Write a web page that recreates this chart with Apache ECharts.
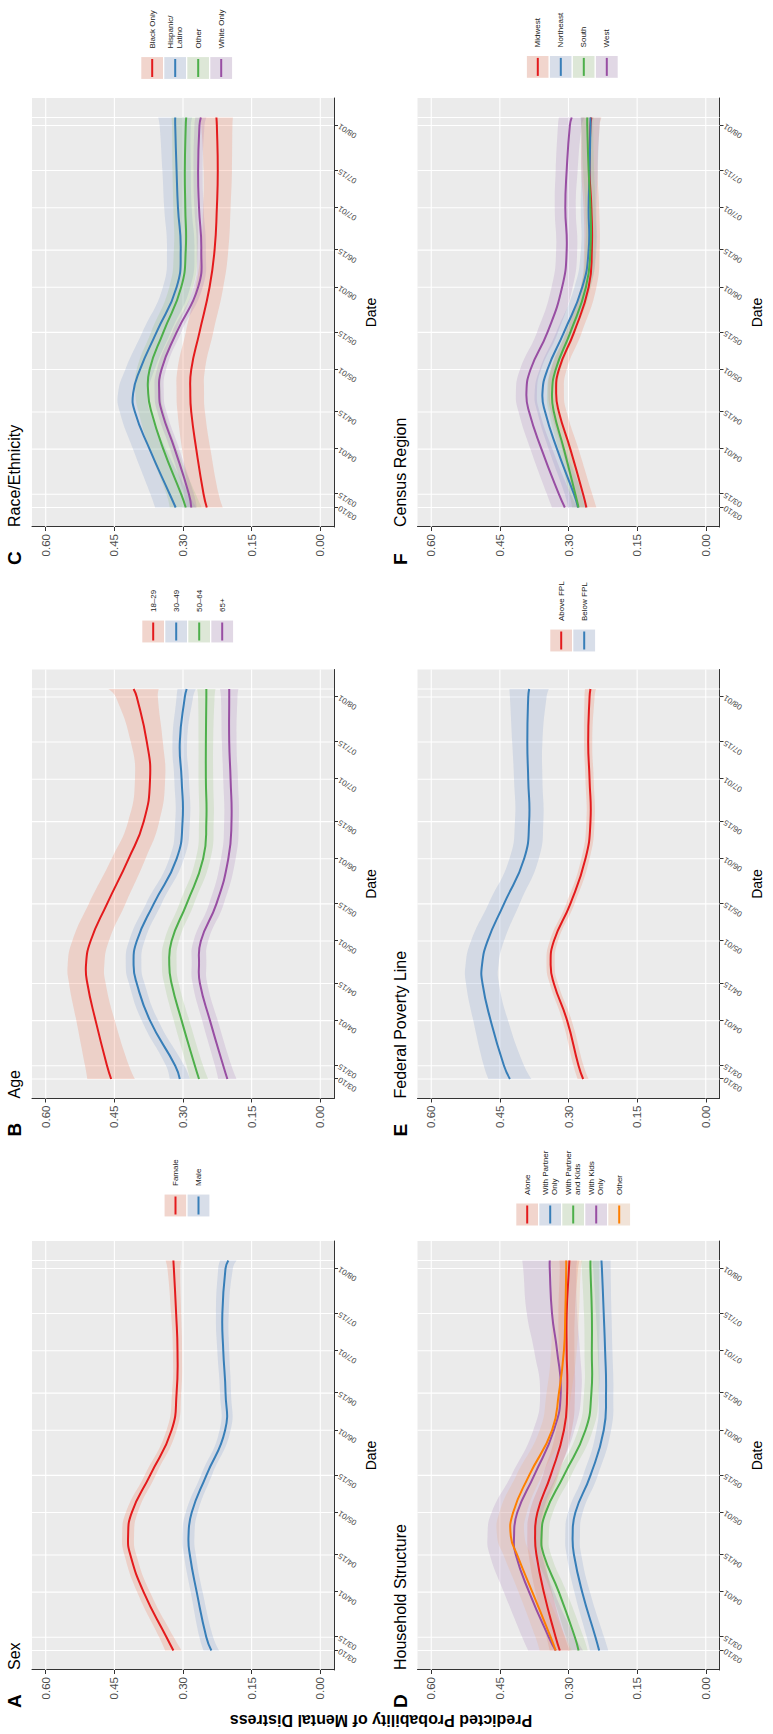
<!DOCTYPE html>
<html><head><meta charset="utf-8">
<script src="https://cdn.jsdelivr.net/npm/echarts@6/dist/echarts.min.js"></script>
<style>
html,body{margin:0;padding:0;background:#fff;overflow:hidden;width:773px;height:1734px;}
#chart{position:absolute;left:0;top:0;width:1734px;height:773px;transform-origin:0 0;transform:translate(0,1734px) rotate(-90deg);}
</style></head><body><div id="chart"></div>
<script>
// ---------- axes ----------
const dateLabels = ['03/10','03/15','04/01','04/15','05/01','05/15','06/01','06/15','07/01','07/15','08/01','08/04'];
const dateDays   = [0,5,22,36,52,66,83,97,113,127,144,147];
const yTickValues = [0,0.15,0.3,0.45,0.6];
const yTickLabels = ['0.00','0.15','0.30','0.45','0.60'];
const sampleDays  = [0,5,22,36,43,52,66,83,97,113,127,144,147];
const yTitle = 'Predicted Probability of Mental Distress';
const xTitle = 'Date';

// ---------- A: Sex ----------
const sexGroups = ['Famale','Male'];
const sexFemale   = [.321,.336,.386,.415,.420,.412,.372,.325,.314,.312,.315,.320,.321];
const sexFemaleCI = [.018,.016,.014,.013,.013,.013,.012,.011,.010,.010,.011,.014,.017];
const sexMale     = [.238,.249,.270,.285,.288,.281,.249,.208,.207,.212,.214,.207,.201];
const sexMaleCI   = [.017,.015,.013,.013,.013,.013,.012,.012,.012,.013,.014,.016,.018];

// ---------- B: Age ----------
const ageGroups = ['18\u201329','30\u201349','50\u201364','65+'];
const age1829   = [.457,.466,.491,.509,.512,.502,.466,.419,.386,.372,.379,.401,.408];
const age1829CI = [.052,.048,.042,.040,.040,.040,.040,.037,.034,.033,.035,.046,.055];
const age3049   = [.307,.317,.372,.401,.408,.401,.364,.314,.301,.303,.307,.296,.292];
const age3049CI = [.022,.020,.018,.017,.017,.017,.017,.016,.016,.016,.016,.018,.020];
const age5064   = [.265,.274,.303,.325,.330,.325,.292,.256,.249,.250,.250,.249,.249];
const age5064CI = [.020,.018,.017,.016,.016,.016,.016,.016,.016,.016,.016,.018,.020];
const age65     = [.203,.212,.241,.263,.265,.261,.227,.201,.194,.196,.199,.199,.199];
const age65CI   = [.020,.018,.017,.016,.016,.016,.016,.016,.016,.016,.016,.018,.020];

// ---------- C: Race/Ethnicity ----------
const raceGroups = ['Black Only','Hispanic/\nLatino','Other','White Only'];
const raceBlack     = [.248,.255,.271,.282,.284,.282,.264,.242,.231,.226,.224,.226,.227];
const raceBlackCI   = [.035,.033,.031,.030,.030,.030,.030,.030,.030,.030,.031,.034,.036];
const raceHispanic  = [.316,.329,.373,.405,.409,.394,.358,.314,.305,.311,.314,.317,.317];
const raceHispanicCI= [.045,.042,.036,.033,.033,.032,.031,.030,.030,.030,.031,.034,.037];
const raceOther     = [.294,.304,.343,.369,.376,.373,.343,.304,.294,.295,.296,.294,.293];
const raceOtherCI   = [.035,.032,.030,.028,.028,.028,.027,.026,.026,.026,.027,.030,.032];
const raceWhite     = [.282,.287,.318,.346,.352,.347,.314,.267,.260,.265,.267,.264,.261];
const raceWhiteCI   = [.012,.011,.010,.010,.010,.010,.010,.010,.010,.010,.010,.011,.012];

// ---------- D: Household Structure ----------
const hhGroups = ['Alone','With Partner\nOnly','With Partner\nand Kids','With Kids\nOnly','Other'];
const hhAlone      = [.319,.328,.354,.370,.373,.368,.339,.310,.303,.304,.304,.299,.298];
const hhAloneCI    = [.022,.020,.018,.017,.017,.017,.017,.017,.017,.017,.018,.020,.022];
const hhPartner    = [.233,.241,.270,.288,.291,.285,.252,.223,.218,.220,.223,.227,.228];
const hhPartnerCI  = [.020,.019,.017,.016,.016,.016,.016,.016,.016,.016,.017,.019,.020];
const hhPartnerKids   = [.278,.286,.321,.354,.359,.350,.310,.263,.250,.249,.249,.252,.252];
const hhPartnerKidsCI = [.020,.019,.017,.016,.016,.016,.016,.016,.016,.016,.017,.019,.020];
const hhKids       = [.328,.343,.386,.415,.419,.412,.375,.332,.317,.325,.336,.341,.341];
const hhKidsCI     = [.060,.058,.055,.057,.058,.056,.050,.045,.045,.050,.055,.058,.060];
const hhOther      = [.328,.339,.379,.412,.426,.421,.386,.336,.321,.310,.307,.305,.305];
const hhOtherCI    = [.035,.033,.030,.030,.030,.030,.028,.027,.027,.028,.030,.032,.035];

// ---------- E: Federal Poverty Line ----------
const fplGroups = ['Above FPL','Below FPL'];
const fplAbove   = [.268,.278,.303,.332,.339,.332,.296,.263,.252,.254,.257,.254,.252];
const fplAboveCI = [.012,.011,.010,.009,.009,.009,.009,.009,.009,.009,.009,.011,.012];
const fplBelow   = [.428,.441,.470,.488,.489,.477,.441,.397,.386,.388,.390,.388,.386];
const fplBelowCI = [.047,.044,.038,.036,.036,.036,.034,.032,.031,.031,.033,.040,.043];

// ---------- F: Census Region ----------
const regGroups = ['Midwest','Northeast','South','West'];
const regMidwest     = [.261,.268,.296,.321,.327,.321,.288,.256,.249,.250,.254,.252,.250];
const regMidwestCI   = [.022,.020,.018,.017,.017,.017,.017,.017,.017,.017,.018,.020,.022];
const regNortheast   = [.279,.288,.325,.351,.357,.346,.310,.270,.256,.256,.254,.252,.252];
const regNortheastCI = [.022,.020,.018,.017,.017,.017,.017,.017,.017,.017,.018,.020,.022];
const regSouth       = [.278,.285,.310,.332,.336,.328,.296,.262,.252,.252,.256,.259,.259];
const regSouthCI     = [.014,.013,.012,.011,.011,.011,.011,.011,.011,.011,.012,.013,.014];
const regWest        = [.308,.321,.359,.386,.392,.383,.346,.314,.304,.307,.304,.297,.293];
const regWestCI      = [.028,.026,.024,.023,.023,.023,.023,.023,.023,.023,.024,.026,.028];

// ---------- styling ----------
const lineColors = ['#e41a1c','#377eb8','#4daf4a','#984ea3','#ff7f00'];
const bandColors = ['rgba(240,100,60,0.2)','rgba(115,145,200,0.2)','rgba(140,190,110,0.2)','rgba(160,115,180,0.2)','rgba(240,170,115,0.2)'];
const FONT = '"Liberation Sans", Arial, Helvetica, sans-serif';
const SMOOTH = 0.5;

const panels = [
  {letter:'A', title:'Sex', groups:sexGroups, means:[sexFemale,sexMale], cis:[sexFemaleCI,sexMaleCI], col:0,row:0, lx:517, ly:164},
  {letter:'B', title:'Age', groups:ageGroups, means:[age1829,age3049,age5064,age65], cis:[age1829CI,age3049CI,age5064CI,age65CI], col:1,row:0, lx:1091, ly:141.7},
  {letter:'C', title:'Race/Ethnicity', groups:raceGroups, means:[raceBlack,raceHispanic,raceOther,raceWhite], cis:[raceBlackCI,raceHispanicCI,raceOtherCI,raceWhiteCI], col:2,row:0, lx:1654.5, ly:140.7},
  {letter:'D', title:'Household Structure', groups:hhGroups, means:[hhAlone,hhPartner,hhPartnerKids,hhKids,hhOther], cis:[hhAloneCI,hhPartnerCI,hhPartnerKidsCI,hhKidsCI,hhOtherCI], col:0,row:1, lx:508, ly:515.7},
  {letter:'E', title:'Federal Poverty Line', groups:fplGroups, means:[fplAbove,fplBelow], cis:[fplAboveCI,fplBelowCI], col:1,row:1, lx:1082, ly:549.7},
  {letter:'F', title:'Census Region', groups:regGroups, means:[regMidwest,regNortheast,regSouth,regWest], cis:[regMidwestCI,regNortheastCI,regSouthCI,regWestCI], col:2,row:1, lx:1655.6, ly:526.3}
];

const colLeft = [64, 635.5, 1207];
const rowTop = [32, 417.5];
const plotW = 429, plotH = 302;
const X_MIN = -7.35, X_MAX = 154.35, Y_MIN = -0.03, Y_MAX = 0.63;

// bezier segments through pixel points (same idea as ECharts' line smoothing)
function smoothSegments(P) {
  const n = P.length, cin = [], cout = [];
  for (let i = 0; i < n; i++) {
    if (i === 0 || i === n - 1) { cin[i] = P[i]; cout[i] = P[i]; continue; }
    const vx = P[i+1][0] - P[i-1][0], vy = P[i+1][1] - P[i-1][1];
    const l0 = Math.hypot(P[i][0] - P[i-1][0], P[i][1] - P[i-1][1]);
    const l1 = Math.hypot(P[i+1][0] - P[i][0], P[i+1][1] - P[i][1]);
    const r = l1 / (l0 + l1);
    cin[i]  = [P[i][0] - vx * SMOOTH * (1 - r), P[i][1] - vy * SMOOTH * (1 - r)];
    cout[i] = [P[i][0] + vx * SMOOTH * r, P[i][1] + vy * SMOOTH * r];
  }
  const segs = [];
  for (let i = 0; i < n - 1; i++) segs.push([P[i], cout[i], cin[i+1], P[i+1]]);
  return segs;
}
function bandPath(up, lo) {
  const su = smoothSegments(up), sl = smoothSegments(lo);
  const f = p => p[0].toFixed(2) + ' ' + p[1].toFixed(2);
  let d = 'M' + f(up[0]);
  su.forEach(g => { d += 'C' + f(g[1]) + ' ' + f(g[2]) + ' ' + f(g[3]); });
  d += 'L' + f(lo[lo.length-1]);
  for (let i = sl.length - 1; i >= 0; i--) { const g = sl[i]; d += 'C' + f(g[2]) + ' ' + f(g[1]) + ' ' + f(g[0]); }
  return d + 'Z';
}
function linePath(P) {
  const s = smoothSegments(P);
  const f = p => p[0].toFixed(2) + ' ' + p[1].toFixed(2);
  let d = 'M' + f(P[0]);
  s.forEach(g => { d += 'C' + f(g[1]) + ' ' + f(g[2]) + ' ' + f(g[3]); });
  return d;
}

const grids = [], xAxes = [], yAxes = [], gridSeries = [], bandSeries = [], lineSeries = [], graphics = [];

graphics.push({type:'text', x:14, y:381, rotation:Math.PI/2,
  style:{text:yTitle, fontSize:16, fontWeight:'bold', fontFamily:FONT, fill:'#000',
    align:'center', textAlign:'center', verticalAlign:'middle', textVerticalAlign:'middle'}});

panels.forEach((p, pi) => {
  const left = colLeft[p.col], top = rowTop[p.row];
  grids.push({left:left, top:top, width:plotW, height:plotH, show:true, backgroundColor:'#ebebeb',
    borderWidth:0, containLabel:false, outerBoundsMode:'none'});
  xAxes.push({type:'value', gridIndex:pi, min:X_MIN, max:X_MAX,
    axisLine:{show:true, onZero:false, lineStyle:{color:'#333', width:1}},
    axisTick:{show:true, length:4, customValues:dateDays, lineStyle:{color:'#333', width:1}},
    axisLabel:{show:true, customValues:dateDays, formatter:v=>{const i=dateDays.indexOf(v);return i<0?'':dateLabels[i];},
      rotate:57, fontSize:8, color:'#4d4d4d', margin:5, fontFamily:FONT, hideOverlap:false},
    splitLine:{show:false},
    name:xTitle, nameLocation:'middle', nameGap:30,
    nameTextStyle:{fontSize:14, color:'#000', fontFamily:FONT}});
  yAxes.push({type:'value', gridIndex:pi, min:Y_MIN, max:Y_MAX,
    axisLine:{show:true, onZero:false, lineStyle:{color:'#333', width:1}},
    axisTick:{show:true, length:4, customValues:yTickValues, lineStyle:{color:'#333', width:1}},
    axisLabel:{show:true, customValues:yTickValues, formatter:v=>{
        let i=yTickValues.findIndex(t=>Math.abs(t-v)<1e-9);return i<0?'':yTickLabels[i];},
      fontSize:11.5, color:'#4d4d4d', margin:7, fontFamily:FONT},
    splitLine:{show:false}});

  gridSeries.push({type:'custom', xAxisIndex:pi, yAxisIndex:pi, silent:true, data:[[0,0]], clip:false,
    renderItem:(params, api) => {
      const ch = [];
      dateDays.forEach(d => { const a = api.coord([d, Y_MIN]), b = api.coord([d, Y_MAX]);
        ch.push({type:'line', shape:{x1:a[0],y1:a[1],x2:b[0],y2:b[1]}, style:{stroke:'#ffffff', lineWidth:1.1}}); });
      yTickValues.forEach(v => { const a = api.coord([X_MIN, v]), b = api.coord([X_MAX, v]);
        ch.push({type:'line', shape:{x1:a[0],y1:a[1],x2:b[0],y2:b[1]}, style:{stroke:'#ffffff', lineWidth:1.1}}); });
      return {type:'group', children:ch};
    }});

  p.groups.forEach((g, gi) => {
    const m = p.means[gi], c = p.cis[gi];
    bandSeries.push({type:'custom', xAxisIndex:pi, yAxisIndex:pi, silent:true, data:[[0,0]],
      renderItem:(params, api) => {
        const up = sampleDays.map((d,k)=>api.coord([d, m[k]+c[k]]));
        const lo = sampleDays.map((d,k)=>api.coord([d, m[k]-c[k]]));
        return {type:'path', shape:{pathData:bandPath(up, lo)}, style:{fill:bandColors[gi], stroke:null}};
      }});
    lineSeries.push({type:'custom', name:g, xAxisIndex:pi, yAxisIndex:pi, silent:true, data:[[0,0]],
      renderItem:(params, api) => {
        const pts = sampleDays.map((d,k)=>api.coord([d, m[k]]));
        return {type:'path', shape:{pathData:linePath(pts)},
          style:{fill:null, stroke:lineColors[gi], lineWidth:2, lineJoin:'round', lineCap:'butt'}};
      }});

    const kx = p.lx, ky = p.ly + gi*23, kw = 23, kh = 23;
    graphics.push({type:'rect', shape:{x:kx, y:ky, width:kw, height:kh},
      style:{fill:'#f2f2f2', stroke:'#ffffff', lineWidth:1.2}});
    graphics.push({type:'rect', shape:{x:kx+0.6, y:ky+0.6, width:kw-1.2, height:kh-1.2},
      style:{fill:bandColors[gi]}});
    graphics.push({type:'line', shape:{x1:kx+2.5, y1:ky+kh/2, x2:kx+kw-2.5, y2:ky+kh/2},
      style:{stroke:lineColors[gi], lineWidth:2}});
    graphics.push({type:'text', x:kx+kw+8, y:ky+kh/2,
      style:{text:g, fontSize:8, fontFamily:FONT, fill:'#1a1a1a', lineHeight:8.5,
        align:'left', textAlign:'left', verticalAlign:'middle', textVerticalAlign:'middle'}});
  });

  graphics.push({type:'text', x:left-38, y:top-17.5,
    style:{text:p.letter, fontSize:19, fontWeight:'bold', fontFamily:FONT, fill:'#000',
      align:'left', textAlign:'left', verticalAlign:'middle', textVerticalAlign:'middle'}});
  graphics.push({type:'text', x:left, y:top-17.5,
    style:{text:p.title, fontSize:16, fontFamily:FONT, fill:'#000',
      align:'left', textAlign:'left', verticalAlign:'middle', textVerticalAlign:'middle'}});
});

const chart = echarts.init(document.getElementById('chart'), null, {renderer:'svg', width:1734, height:773});
chart.setOption({
  animation:false,
  backgroundColor:'#ffffff',
  textStyle:{fontFamily:FONT},
  grid:grids, xAxis:xAxes, yAxis:yAxes,
  series: gridSeries.concat(bandSeries, lineSeries),
  graphic: graphics
});
</script>
</body></html>
